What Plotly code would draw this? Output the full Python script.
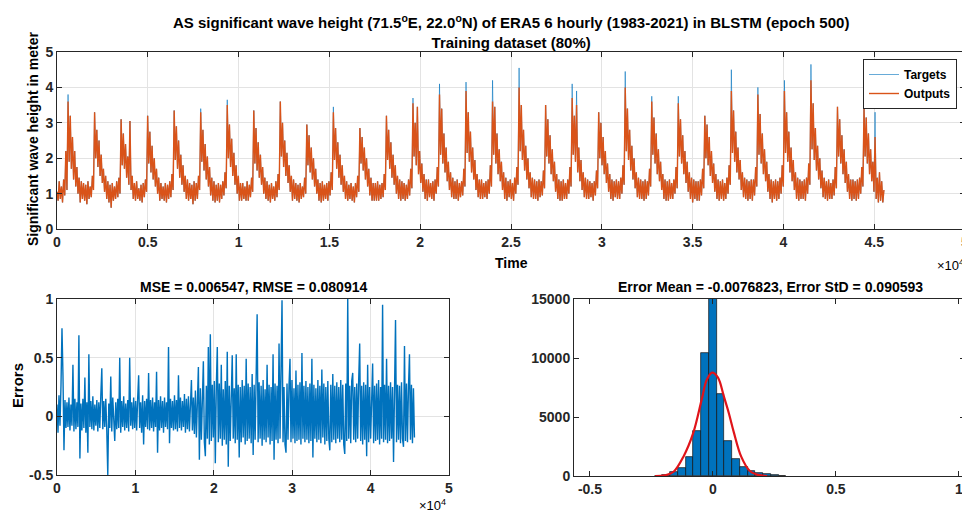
import numpy as np
import plotly.graph_objects as go

# ---------------- data ----------------
# Significant wave height "Outputs": one row per year (1983..), 24 readings per year
# (alternating local highs / lows, roughly half-monthly), last row partial.
HS_OUTPUTS_BY_YEAR = [
    [1.05,0.80,1.35,0.85,1.20,0.75,1.40,0.95,2.20,1.10,3.60,1.90,3.20,1.70,2.60,1.40,2.20,1.20,1.75,1.00,1.45,0.75,1.35,0.85],
    [1.30,0.80,1.25,0.70,1.35,0.85,1.20,0.90,1.50,1.10,3.30,2.00,2.80,1.75,2.50,1.50,2.10,1.30,1.70,1.05,1.50,0.85,1.35,0.75],
    [1.25,0.60,1.30,0.80,1.20,0.85,1.35,0.90,1.45,1.00,3.10,1.80,2.70,1.70,2.40,1.45,2.05,1.25,3.05,1.10,1.50,0.85,1.30,0.80],
    [1.35,0.85,1.15,0.80,1.25,0.75,1.30,0.90,1.40,1.05,3.20,1.85,2.75,1.60,2.35,1.40,2.00,1.20,1.70,1.00,1.45,0.80,1.30,0.85],
    [1.20,0.80,1.30,0.75,1.25,0.85,1.35,0.90,1.55,1.10,3.35,1.95,2.90,1.70,2.50,1.45,2.10,1.25,1.80,1.05,1.50,0.85,1.40,0.80],
    [1.30,0.85,1.25,0.70,1.35,0.80,1.30,0.85,1.50,1.10,3.30,1.90,2.80,1.65,2.40,1.40,2.05,1.20,1.75,0.95,1.45,0.80,1.35,0.75],
    [1.25,0.80,1.30,0.75,1.25,0.85,1.35,0.95,1.60,1.15,3.50,2.00,2.95,1.75,2.55,1.50,2.15,1.25,1.80,1.00,1.50,0.80,1.30,0.80],
    [1.30,0.85,1.20,0.80,1.35,0.80,1.25,0.90,1.45,1.05,3.35,1.85,2.85,1.65,2.45,1.45,2.10,1.25,1.75,1.00,1.45,0.85,1.35,0.80],
    [1.25,0.75,1.30,0.85,1.20,0.80,1.35,0.90,1.55,1.10,3.60,2.05,3.00,1.75,2.50,1.50,2.15,1.30,1.80,1.05,1.50,0.80,1.40,0.85],
    [1.30,0.80,1.25,0.75,1.30,0.85,1.20,0.90,1.45,1.00,2.95,1.80,2.65,1.60,2.30,1.40,2.00,1.20,1.70,1.00,1.40,0.80,1.30,0.75],
    [1.35,0.80,1.25,0.85,1.30,0.80,1.35,0.95,1.60,1.10,3.30,1.95,2.85,1.70,2.45,1.45,2.10,1.25,1.80,1.05,1.50,0.85,1.35,0.80],
    [1.25,0.85,1.30,0.80,1.20,0.75,1.30,0.90,1.50,1.05,2.85,1.85,2.60,1.65,2.30,1.40,2.00,1.20,1.70,0.95,1.45,0.80,1.30,0.80],
    [1.30,0.80,1.35,0.80,1.25,0.85,1.30,0.90,1.55,1.10,3.20,1.95,2.80,1.70,2.45,1.45,2.10,1.25,1.80,1.00,1.50,0.85,1.40,0.80],
    [1.35,0.85,1.30,0.80,1.25,0.85,1.40,0.95,1.70,1.15,3.55,2.05,3.00,1.80,3.45,1.55,2.20,1.30,1.85,1.05,1.55,0.85,1.40,0.80],
    [1.40,0.90,1.30,0.85,1.35,0.80,1.40,1.00,1.75,1.20,3.80,2.10,3.40,1.85,2.70,1.60,2.30,1.35,1.90,1.10,1.60,0.90,1.45,0.85],
    [1.35,0.85,1.40,0.80,1.30,0.90,1.35,0.95,1.70,1.20,3.90,2.15,3.30,1.90,2.75,1.60,2.30,1.40,1.95,1.10,1.55,0.90,1.40,0.85],
    [1.40,0.85,1.30,0.90,1.35,0.85,1.40,1.00,1.80,1.20,3.60,2.10,3.45,1.85,2.70,1.55,2.25,1.35,1.90,1.10,1.60,0.85,1.45,0.80],
    [1.35,0.90,1.40,0.85,1.30,0.80,1.45,1.00,1.75,1.25,4.00,2.20,3.50,1.95,2.80,1.65,2.35,1.40,2.00,1.15,1.60,0.90,1.45,0.85],
    [1.40,0.85,1.35,0.80,1.40,0.90,1.35,0.95,1.65,1.15,3.50,2.05,3.10,1.85,2.65,1.55,2.25,1.35,1.90,1.05,1.55,0.85,1.40,0.80],
    [1.35,0.80,1.40,0.85,1.30,0.85,1.40,1.00,1.75,1.20,3.70,2.10,3.20,1.90,3.50,1.60,2.30,1.35,1.95,1.10,1.60,0.90,1.45,0.85],
    [1.40,0.85,1.35,0.90,1.30,0.80,1.35,0.95,1.65,1.15,3.30,2.00,3.00,1.80,2.60,1.55,2.20,1.30,1.85,1.05,1.55,0.85,1.40,0.80],
    [1.35,0.90,1.40,0.85,1.35,0.85,1.45,1.00,1.80,1.25,4.00,2.20,3.40,1.95,2.80,1.65,2.35,1.40,2.00,1.15,1.60,0.90,1.45,0.85],
    [1.40,0.85,1.35,0.80,1.40,0.85,1.35,0.95,1.70,1.20,3.60,2.10,3.15,1.85,2.70,1.55,2.25,1.35,1.90,1.10,1.55,0.85,1.40,0.80],
    [1.35,0.80,1.40,0.85,1.30,0.85,1.40,1.00,1.75,1.15,3.55,2.05,3.10,1.85,2.65,1.55,2.20,1.30,1.90,1.05,1.60,0.85,1.45,0.75],
    [1.40,0.85,1.35,0.80,1.35,0.80,1.40,0.95,1.70,1.15,3.20,2.00,2.95,1.80,2.60,1.50,2.20,1.30,1.85,1.05,1.55,0.85,1.40,0.80],
    [1.35,0.85,1.40,0.80,1.30,0.85,1.45,1.00,1.80,1.25,3.90,2.15,3.35,1.90,2.75,1.60,2.30,1.40,1.95,1.10,1.60,0.90,1.45,0.85],
    [1.40,0.80,1.35,0.85,1.40,0.80,1.40,0.95,1.75,1.20,3.80,2.10,3.25,1.85,2.70,1.55,2.25,1.35,1.90,1.05,1.55,0.85,1.40,0.75],
    [1.35,0.85,1.40,0.80,1.35,0.85,1.45,1.00,1.80,1.20,3.90,2.15,3.30,1.90,2.75,1.60,2.30,1.35,1.95,1.10,1.60,0.85,1.45,0.80],
    [1.40,0.85,1.35,0.85,1.40,0.80,1.45,1.00,1.85,1.25,4.20,2.25,3.55,1.95,2.85,1.65,2.35,1.40,2.00,1.15,1.65,0.90,1.45,0.85],
    [1.35,0.80,1.40,0.85,1.30,0.85,1.40,0.95,1.75,1.15,3.45,2.05,3.10,1.85,2.65,1.55,2.25,1.30,1.90,1.05,1.55,0.85,1.40,0.80],
    [1.40,0.85,1.35,0.80,1.40,0.85,1.45,1.00,1.75,1.20,3.40,2.05,3.15,1.85,2.70,1.55,2.25,1.35,1.90,1.05,2.60,0.85,1.45,0.75],
    [1.60,0.80,1.35,0.75,1.10],
]
# Where the Targets rise above the Outputs: (year row, reading index, target value)
TARGET_PEAKS = [
    (0, 10, 3.80), (5, 10, 3.40), (6, 10, 3.65), (10, 10, 3.45), (13, 10, 3.70),
    (14, 10, 4.10), (15, 10, 4.15), (16, 10, 4.20), (17, 10, 4.55), (19, 10, 4.10),
    (19, 14, 3.90), (21, 10, 4.45), (22, 10, 3.75), (23, 10, 3.75), (25, 10, 4.50),
    (26, 10, 4.00), (27, 10, 4.20), (28, 10, 4.65), (30, 10, 3.50), (30, 20, 3.30),
]
SAMPLES_PER_READING = 60.875   # 6-hourly samples between two readings (half a month)

# Errors (Targets - Outputs), one reading every ERR_STEP samples
ERRORS = [
    0.10,-0.14,0.18,-0.08,0.26,0.75,0.35,-0.29,0.14,-0.10,0.12,-0.09,0.16,-0.12,0.10,-0.08,0.44,-0.13,0.15,-0.11,
    0.12,-0.09,0.69,-0.36,0.11,-0.12,0.15,-0.10,0.33,-0.14,0.12,-0.31,0.53,-0.09,0.13,-0.11,0.17,-0.12,0.10,-0.08,
    0.14,-0.13,0.12,-0.10,0.18,0.41,-0.11,0.13,-0.09,0.15,-0.12,-0.50,0.11,-0.10,0.34,-0.13,0.16,-0.09,-0.21,0.12,
    -0.11,0.15,-0.10,0.50,-0.14,0.13,-0.09,0.17,-0.12,0.11,-0.10,0.14,-0.13,0.50,-0.08,0.12,-0.11,0.16,-0.10,0.13,
    -0.12,0.15,0.35,-0.10,0.12,-0.14,0.18,-0.24,0.13,-0.09,0.15,-0.11,0.37,-0.12,0.14,-0.10,0.16,-0.13,0.12,-0.09,
    0.38,-0.31,0.14,-0.12,0.17,-0.10,0.13,-0.14,0.16,-0.09,0.12,-0.11,0.59,-0.23,0.15,-0.10,0.13,-0.12,0.18,-0.11,
    0.14,-0.13,0.35,-0.10,0.16,-0.12,0.13,-0.09,0.19,-0.14,0.15,-0.11,0.17,-0.13,0.20,0.31,-0.12,0.16,-0.15,0.22,
    -0.18,0.25,0.42,-0.37,0.24,-0.20,0.28,0.47,-0.22,-0.34,0.26,-0.19,0.59,-0.24,0.70,-0.21,0.27,-0.18,0.30,-0.40,
    0.25,0.59,-0.22,0.28,-0.19,0.44,-0.25,0.23,-0.20,0.30,-0.24,0.55,-0.43,0.26,-0.21,0.29,0.52,-0.19,0.24,-0.23,
    0.53,-0.20,0.27,-0.35,0.25,-0.22,0.31,-0.18,0.26,-0.24,0.49,-0.21,0.28,-0.19,0.25,-0.23,0.36,-0.33,0.27,-0.20,
    0.24,0.87,-0.22,0.29,-0.19,0.26,-0.25,0.31,-0.20,0.23,-0.22,0.44,-0.18,0.27,-0.24,0.25,-0.21,0.53,-0.37,0.28,
    -0.20,0.26,-0.23,0.62,-0.19,0.30,0.99,-0.22,0.25,-0.24,-0.31,0.28,-0.20,0.26,0.49,-0.22,0.31,-0.19,0.24,-0.23,
    0.39,-0.21,0.27,-0.20,0.29,-0.24,0.54,-0.19,0.26,-0.22,0.30,-0.20,0.25,-0.23,0.28,-0.21,0.49,-0.35,0.27,-0.19,
    0.24,-0.22,0.31,-0.20,0.26,-0.23,0.40,-0.18,0.28,-0.24,0.25,-0.21,0.30,-0.19,-0.29,0.27,-0.22,0.36,-0.20,0.26,
    -0.23,0.29,-0.19,0.25,-0.22,0.31,-0.20,0.27,-0.24,-0.32,0.28,-0.21,1.00,-0.19,0.26,-0.23,0.30,0.37,-0.20,0.25,
    -0.22,0.28,-0.19,0.31,0.62,-0.21,0.26,-0.24,0.29,-0.20,0.27,-0.34,0.44,-0.22,0.25,-0.19,0.30,0.45,-0.23,0.26,
    -0.21,0.28,-0.20,0.31,-0.24,0.25,-0.19,0.95,-0.22,0.27,-0.20,0.49,-0.23,0.26,-0.21,0.29,-0.19,0.25,-0.39,0.30,
    0.82,-0.22,0.27,-0.20,0.26,-0.23,0.29,-0.19,-0.26,0.60,-0.21,0.28,-0.22,0.25,0.53,-0.20,0.27,-0.23,0.24,-0.18,
]
ERR_STEP = 127

# Error histogram
HIST_CENTERS = [-0.2215,-0.19,-0.1585,-0.127,-0.0955,-0.064,-0.0325,-0.001,0.0305,
                0.062,0.0935,0.125,0.1565,0.188,0.2195,0.251,0.2825]
HIST_COUNTS = [30, 80, 310, 700, 1640, 3810, 10400, 15600, 6920,
               2970, 1440, 735, 420, 280, 180, 80, 40]
HIST_BIN_WIDTH = 0.0315
# Fitted normal curve
FIT_X = [-0.235,-0.195,-0.16,-0.12,-0.08,-0.046,-0.025,-0.003,0.02,0.045,0.065,0.085,0.115,0.15,0.18,0.22]
FIT_Y = [0, 60, 360, 1640, 3650, 6450, 8150, 8755, 8350, 6700, 5300, 3700, 1640, 420, 120, 0]

# Tick labels
TIME_TICKS = [0, 5000, 10000, 15000, 20000, 25000, 30000, 35000, 40000, 45000, 50000]
TIME_TICK_TEXT = ["0", "0.5", "1", "1.5", "2", "2.5", "3", "3.5", "4", "4.5", "5"]
ERRT_TICKS = [0, 10000, 20000, 30000, 40000, 50000]
ERRT_TICK_TEXT = ["0", "1", "2", "3", "4", "5"]
HS_TICKS = [0, 1, 2, 3, 4, 5]
HS_TICK_TEXT = ["0", "1", "2", "3", "4", "5"]
ERR_TICKS = [-0.5, 0, 0.5, 1]
ERR_TICK_TEXT = ["-0.5", "0", "0.5", "1"]
HX_TICKS = [-0.5, 0, 0.5, 1]
HX_TICK_TEXT = ["-0.5", "0", "0.5", "1"]
HY_TICKS = [0, 5000, 10000, 15000]
HY_TICK_TEXT = ["0", "5000", "10000", "15000"]

TITLE = ("AS significant wave height (71.5<sup>o</sup>E, 22.0<sup>o</sup>N) of ERA5 6 hourly "
         "(1983-2021) in BLSTM (epoch 500)<br>Training dataset (80%)")
ERR_TITLE = "MSE = 0.006547, RMSE = 0.080914"
HIST_TITLE = "Error Mean = -0.0076823, Error StD = 0.090593"

# ---------------- assemble ----------------
outputs = [v for row in HS_OUTPUTS_BY_YEAR for v in row]
targets = [list(row) for row in HS_OUTPUTS_BY_YEAR]
for yr, idx, val in TARGET_PEAKS:
    targets[yr][idx] = val
targets = [v for row in targets for v in row]
t_hs = np.arange(len(outputs)) * SAMPLES_PER_READING
t_err = np.arange(len(ERRORS)) * ERR_STEP

BLUE = "#0072BD"
ORANGE = "#D95319"
AX = "#262626"
GRID = "#e3e3e3"
FONT = "Liberation Sans, Arial, sans-serif"
W, H = 970, 521
OFF = 8   # the page body margin shifts the figure by 8 px

def px(x):
    return (x - OFF) / W

def py(y):
    return 1 - (y - OFF) / H

fig = go.Figure()
fig.add_trace(go.Scatter(x=t_hs, y=targets, mode="lines", name="Targets",
                         line=dict(color=BLUE, width=0.6), xaxis="x", yaxis="y"))
fig.add_trace(go.Scatter(x=t_hs, y=outputs, mode="lines", name="Outputs",
                         line=dict(color=ORANGE, width=1.4), xaxis="x", yaxis="y"))
fig.add_trace(go.Scatter(x=t_err, y=ERRORS, mode="lines", showlegend=False,
                         line=dict(color=BLUE, width=1.4), xaxis="x2", yaxis="y2"))
fig.add_trace(go.Bar(x=HIST_CENTERS, y=HIST_COUNTS, width=HIST_BIN_WIDTH, showlegend=False,
                     marker=dict(color=BLUE, line=dict(color="#111111", width=0.7)),
                     xaxis="x3", yaxis="y3"))
fig.add_trace(go.Scatter(x=FIT_X, y=FIT_Y, mode="lines", showlegend=False,
                         line=dict(color="#E0141A", width=2.2, shape="spline"),
                         xaxis="x3", yaxis="y3"))

tickfont = dict(family=FONT, size=14, color=AX, weight="bold")

def axis(domain, rng, tickvals, ticktext, grid=True, anchor=None):
    return dict(domain=domain, range=rng, tickvals=tickvals, ticktext=ticktext,
                showgrid=grid, gridcolor=GRID, gridwidth=1, zeroline=False,
                showline=True, linecolor=AX, linewidth=1, mirror="ticks",
                ticks="inside", ticklen=5, tickcolor=AX, tickwidth=1,
                tickfont=tickfont, anchor=anchor, fixedrange=True, automargin=False)

fig.update_layout(
    width=W, height=H, autosize=False,
    margin=dict(l=0, r=0, t=0, b=0, autoexpand=False),
    paper_bgcolor="white", plot_bgcolor="white",
    font=dict(family=FONT, color=AX),
    bargap=0,
    xaxis=axis([px(57), px(965)], [0, 50000], TIME_TICKS, TIME_TICK_TEXT, anchor="y"),
    yaxis=axis([py(229), py(52)], [0, 5], HS_TICKS, HS_TICK_TEXT, anchor="x"),
    xaxis2=axis([px(57), px(449)], [0, 50000], ERRT_TICKS, ERRT_TICK_TEXT, anchor="y2"),
    yaxis2=axis([py(475), py(299)], [-0.5, 1], ERR_TICKS, ERR_TICK_TEXT, anchor="x2"),
    xaxis3=axis([px(574), px(965)], [-0.565, 1.025], HX_TICKS, HX_TICK_TEXT, grid=False, anchor="y3"),
    yaxis3=axis([py(476), py(299)], [0, 15000], HY_TICKS, HY_TICK_TEXT, grid=False, anchor="x3"),
    legend=dict(x=px(957), y=py(59), xanchor="right", yanchor="top",
                bgcolor="white", bordercolor=AX, borderwidth=1,
                font=dict(family=FONT, size=12, color="#000000", weight="bold"),
                itemwidth=30, tracegroupgap=0),
    showlegend=True,
)

def ann(text, x, y, size=14, angle=0, xanchor="center", yanchor="middle"):
    fig.add_annotation(text=text, x=px(x), y=py(y), xref="paper", yref="paper",
                       showarrow=False, textangle=angle, xanchor=xanchor, yanchor=yanchor,
                       font=dict(family=FONT, size=size, color="#000000"))

ann("<b>" + TITLE + "</b>", 511, 31, size=15)
ann("<b>Significant wave height in meter</b>", 33, 139, size=14, angle=-90)
ann("<b>Time</b>", 511, 263, size=14)
ann("×10<sup>4</sup>", 966, 265, size=13, xanchor="right")
ann("<b>" + ERR_TITLE + "</b>", 253, 287, size=14)
ann("<b>Errors</b>", 17, 386, size=15, angle=-90)
ann("×10<sup>4</sup>", 448, 505, size=13, xanchor="right")
ann("<b>" + HIST_TITLE + "</b>", 770, 287, size=14)

fig.write_html("out.html")
